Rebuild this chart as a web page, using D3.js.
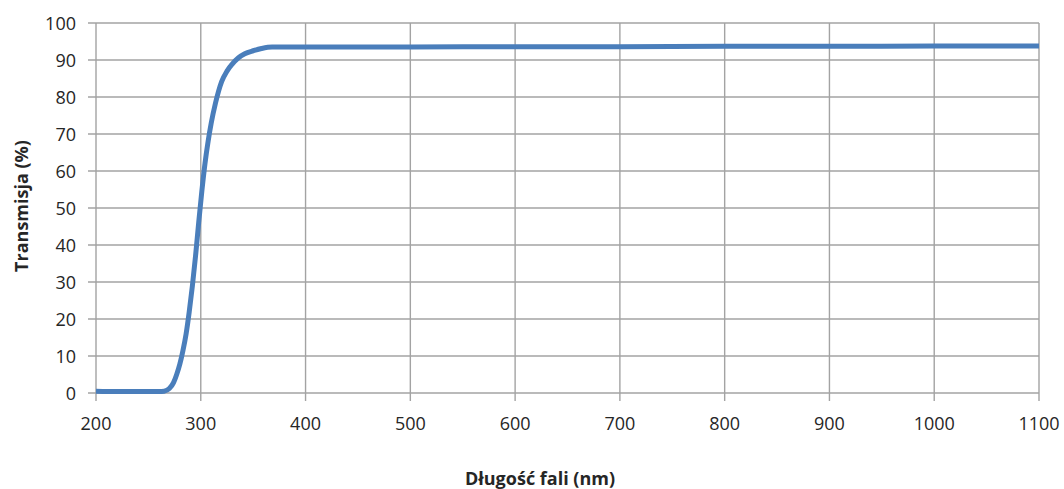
<!DOCTYPE html>
<html>
<head>
<meta charset="utf-8">
<script src="https://cdn.jsdelivr.net/npm/d3@7"></script>
<style>
  html, body { margin: 0; padding: 0; background: #fff; }
  svg { display: block; }
  text { font-family: "Open Sans", "Liberation Sans", sans-serif; fill: #262626; }
</style>
</head>
<body>
<svg id="chart" width="1064" height="489"></svg>
<script>
// Data
const wavelength = [200, 220, 240, 260, 265, 270, 274, 277, 280, 283, 286, 289, 292, 295, 298, 301, 304, 307, 310, 314, 317, 320, 325, 330, 336, 342, 350, 358, 368, 400, 500, 600, 700, 800, 900, 1000, 1100];
const transmission = [0.5, 0.4, 0.4, 0.4, 0.5, 1.2, 2.8, 5.0, 7.8, 11.5, 16.0, 22.0, 29.0, 37.0, 46.0, 54.5, 62.0, 68.0, 73.0, 78.3, 81.6, 84.2, 87.0, 88.9, 90.6, 91.7, 92.5, 93.1, 93.5, 93.5, 93.5, 93.6, 93.6, 93.7, 93.7, 93.8, 93.8];
const xTicks = [200, 300, 400, 500, 600, 700, 800, 900, 1000, 1100];
const yTicks = [0, 10, 20, 30, 40, 50, 60, 70, 80, 90, 100];
const xTitle = "Długość fali (nm)";
const yTitle = "Transmisja (%)";

const svg = d3.select("#chart");
const margin = { left: 96, right: 25, top: 23, bottom: 96 };

const x = d3.scaleLinear().domain([200, 1100]).range([margin.left, 1039]);
const y = d3.scaleLinear().domain([0, 100]).range([393, margin.top]);

const gridColor = "#a3a3a3";

// Horizontal gridlines (with outer ticks)
svg.append("g").selectAll("line").data(yTicks).join("line")
  .attr("x1", x(200) - 8).attr("x2", x(1100))
  .attr("y1", d => y(d)).attr("y2", d => y(d))
  .attr("stroke", gridColor).attr("stroke-width", 1.4);

// Vertical gridlines (with outer ticks)
svg.append("g").selectAll("line").data(xTicks).join("line")
  .attr("x1", d => x(d)).attr("x2", d => x(d))
  .attr("y1", y(100)).attr("y2", y(0) + 8)
  .attr("stroke", gridColor).attr("stroke-width", 1.4);

// Y tick labels
svg.append("g").selectAll("text").data(yTicks).join("text")
  .attr("x", 76).attr("y", d => y(d))
  .attr("text-anchor", "end").attr("dominant-baseline", "central")
  .attr("font-size", 18)
  .text(d => d);

// X tick labels
svg.append("g").selectAll("text").data(xTicks).join("text")
  .attr("x", d => x(d)).attr("y", 423)
  .attr("text-anchor", "middle").attr("dominant-baseline", "central")
  .attr("font-size", 18)
  .text(d => d);

// Axis titles
svg.append("text")
  .attr("x", 540).attr("y", 478)
  .attr("text-anchor", "middle").attr("dominant-baseline", "central")
  .attr("font-size", 18).attr("font-weight", "bold")
  .attr("fill", "#000")
  .text(xTitle);

svg.append("text")
  .attr("transform", "translate(21,206) rotate(-90)")
  .attr("text-anchor", "middle").attr("dominant-baseline", "central")
  .attr("font-size", 18).attr("font-weight", "bold")
  .attr("fill", "#000")
  .text(yTitle);

// Curve
const data = wavelength.map((w, i) => [w, transmission[i]]);
const line = d3.line()
  .x(d => x(d[0])).y(d => y(d[1]))
  .curve(d3.curveMonotoneX);

svg.append("path")
  .datum(data)
  .attr("d", line)
  .attr("fill", "none")
  .attr("stroke", "#4a7ebb")
  .attr("stroke-width", 5)
  .attr("stroke-linejoin", "round");
</script>
</body>
</html>
